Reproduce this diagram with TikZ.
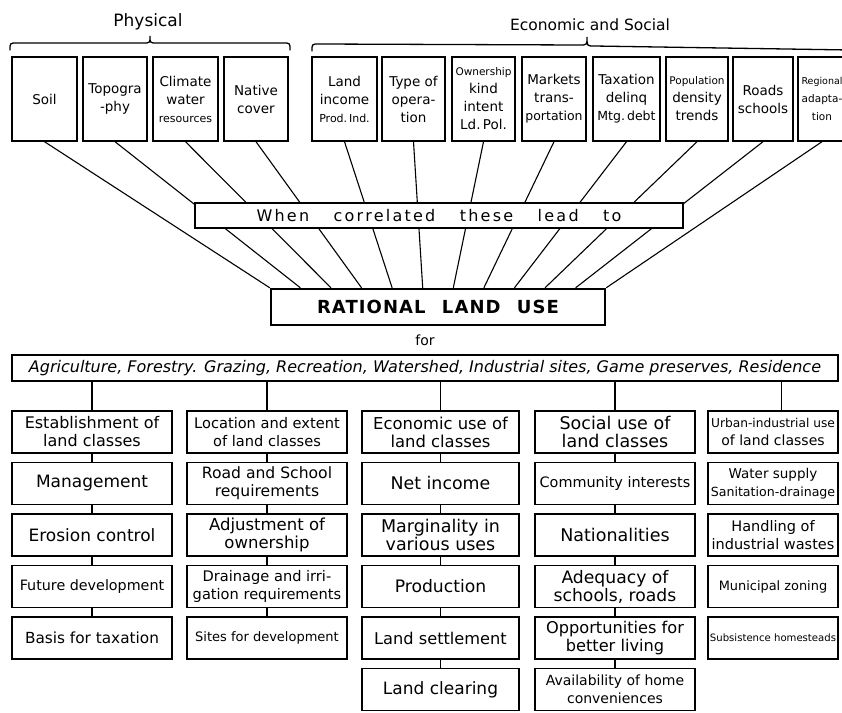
\documentclass[tikz,border=0pt]{standalone}
\usepackage{fontspec}
\setmainfont{DejaVu Sans}
\usetikzlibrary{calc}
\newcommand{\boxfont}[1]{\fontsize{#1}{18}\selectfont}
\tikzset{
    topbox/.style={
        draw, line width=1.4pt, minimum height=84pt,
        inner sep=1pt, align=center, font=\boxfont{13.5}
    },
    cbox/.style={
        draw, line width=1.4pt, minimum height=42pt,
        inner sep=1pt, align=center, font=\boxfont{16}
    },
    colA/.style={cbox, minimum width=160pt},
    colC/.style={cbox, minimum width=157pt},
    colE/.style={cbox, minimum width=130pt},
    band/.style={draw, line width=1.4pt, fill=white, inner sep=0pt},
    grp/.style={font=\boxfont{16}},
    brace/.style={line width=1.3pt, line cap=round},
    feed/.style={line width=1.1pt},
    link/.style={line width=1.2pt}
}

\begin{document}
\begin{tikzpicture}[x=1pt, y=-1pt]
      \useasboundingbox (0,0) rectangle (842,712);
      \clip (0,0) rectangle (842,712);
      \node[grp, font=\boxfont{17}] (physlbl) at (148,22) {Physical};
      \node[grp, font=\boxfont{15.5}] (econlbl) at (590,25) {Economic and Social};
      \draw[brace] (10,50) .. controls (10,43) .. (17,43) -- (143,43) .. controls (150,43) .. (150,36)
                   .. controls (150,43) .. (157,43) -- (283,43) .. controls (290,43) .. (290,50);
      \draw[brace] (312,51) .. controls (312,44) .. (319,44) -- (580,45) .. controls (587,45) .. (587,37)
                   .. controls (587,46) .. (594,46) -- (850,50);
      \node[topbox, minimum width=65pt] (soil)   at (44.5,99)  {Soil};
      \node[topbox, minimum width=64pt] (topo)   at (115,99)   {Topogra\\-phy};
      \node[topbox, minimum width=65pt] (clim)   at (185.5,99) {Climate\\water\\{\boxfont{11}resources}};
      \node[topbox, minimum width=64pt] (cover)  at (256,99)   {Native\\cover};
      \node[topbox, minimum width=65pt] (income) at (344.5,99) {Land\\income\\{\boxfont{11}Prod.\,Ind.}};
      \node[topbox, minimum width=63pt] (oper)   at (413.5,99) {Type of\\opera-\\tion};
      \node[topbox, minimum width=63pt] (owner)  at (483.5,99) {{\boxfont{10.5}Ownership}\\kind\\intent\\Ld.\,Pol.};
      \node[topbox, minimum width=64pt] (market) at (554,99)   {Markets\\trans-\\{\boxfont{12.5}portation}};
      \node[topbox, minimum width=67pt] (tax)    at (626.5,99) {Taxation\\delinq\\{\boxfont{12.5}Mtg.\,debt}};
      \node[topbox, minimum width=62pt] (popul)  at (697,99)   {{\boxfont{10.5}Population}\\density\\trends};
      \node[topbox, minimum width=60pt] (roads)  at (763,99)   {Roads\\schools};
      \node[topbox, minimum width=48pt, font=\boxfont{10.5}] (region) at (822,99) {{\boxfont{9.5}Regional}\\adapta-\\tion};
      \node[band, line width=2.4pt, minimum width=334pt, minimum height=36pt, font=\boxfont{18}\bfseries]
           (rlu) at (438,307) {\makebox[242pt][s]{\addfontfeature{LetterSpace=6}RATIONAL LAND USE}};
      \foreach \n [count=\i from 0] in {soil,topo,clim,cover,income,oper,owner,market,tax,popul,roads,region}
          \draw[feed] (\n.south) -- ($(rlu.north west)!\i/11!(rlu.north east)$);
      \node[band, minimum width=488pt, minimum height=25pt, font=\boxfont{16}]
           (lead) at (439,215.5) {\makebox[365pt][s]{\addfontfeature{LetterSpace=14}When correlated these lead to}};
      \node[font=\boxfont{14}] (for) at (425,340) {for};
      \node[band, minimum width=826pt, minimum height=26pt, font=\boxfont{16}\itshape] (uses) at (425,368)
           {Agriculture, Forestry. Grazing, Recreation, Watershed, Industrial sites, Game preserves, Residence};
      \node[colA] (est)     at (92,432)    {Establishment of\\land classes};
      \node[colA, font=\boxfont{17}] (mgmt)    at (92,483.5)  {Management};
      \node[colA, font=\boxfont{17}] (erosion) at (92,535)    {Erosion control};
      \node[colA, font=\boxfont{14.3}] (future) at (92,586.5) {Future development};
      \node[colA, font=\boxfont{15.3}] (taxbase) at (92,638)  {Basis for taxation};
      \node[colA, font=\boxfont{14.6}] (locate) at (267,432)  {Location and extent\\of land classes};
      \node[colA, font=\boxfont{15.6}] (roadreq) at (267,483.5) {Road and School\\requirements};
      \node[colA, font=\boxfont{16.5}] (adjust) at (267,535)  {Adjustment of\\ownership};
      \node[colA, font=\boxfont{14.6}] (drain)  at (267,586.5) {Drainage and irri-\\gation requirements};
      \node[colA, font=\boxfont{13}]   (sites)  at (267,638)  {Sites for development};
      \node[colC, font=\boxfont{16.4}] (ecouse) at (440.5,432) {Economic use of\\land classes};
      \node[colC, font=\boxfont{17.4}] (netinc) at (440.5,483.5) {Net income};
      \node[colC, font=\boxfont{17.5}] (margin) at (440.5,535) {Marginality in\\various uses};
      \node[colC, font=\boxfont{17.2}] (prod)   at (440.5,586.5) {Production};
      \node[colC, font=\boxfont{16.2}] (settle) at (440.5,638) {Land settlement};
      \node[colC, font=\boxfont{17}]   (clear)  at (440.5,689.5) {Land clearing};
      \node[colA, font=\boxfont{17.5}] (socuse) at (615,432)  {Social use of\\land classes};
      \node[colA, font=\boxfont{14.4}] (commun) at (615,483.5) {Community interests};
      \node[colA, font=\boxfont{17.5}] (nation) at (615,535)  {Nationalities};
      \node[colA, font=\boxfont{17.2}] (adequ)  at (615,586.5) {Adequacy of\\schools, roads};
      \node[colA, font=\boxfont{16.2}] (oppor)  at (615,638)  {Opportunities for\\better living};
      \node[colA, font=\boxfont{14}]   (avail)  at (615,689.5) {Availability of home\\conveniences};
      \node[colE, font=\boxfont{12.2}] (urban)  at (773,432)  {Urban-industrial use\\{\boxfont{14}of land classes}};
      \node[colE, font=\boxfont{12.6}] (water)  at (773,483.5) {{\boxfont{13.5}Water supply}\\Sanitation-drainage};
      \node[colE, font=\boxfont{14.5}] (wastes) at (773,535)  {Handling of\\industrial wastes};
      \node[colE, font=\boxfont{12.9}] (zoning) at (773,586.5) {Municipal zoning};
      \node[colE, font=\boxfont{10.1}] (homest) at (773,638)  {Subsistence homesteads};
      \foreach \n in {est,locate,ecouse,socuse}
          \draw[link] (\n.north) -- (\n.north |- uses.south);
      \draw[link, line width=0.8pt] ([xshift=8pt]urban.north) -- ([xshift=8pt]urban.north |- uses.south);
      \foreach \a/\b in {est/mgmt, mgmt/erosion, erosion/future, future/taxbase,
                         locate/roadreq, roadreq/adjust, adjust/drain, drain/sites,
                         ecouse/netinc, netinc/margin, margin/prod, prod/settle, settle/clear,
                         socuse/commun, commun/nation, nation/adequ, adequ/oppor, oppor/avail}
          \draw[link] (\a.south) -- (\b.north);
\end{tikzpicture}
\end{document}
